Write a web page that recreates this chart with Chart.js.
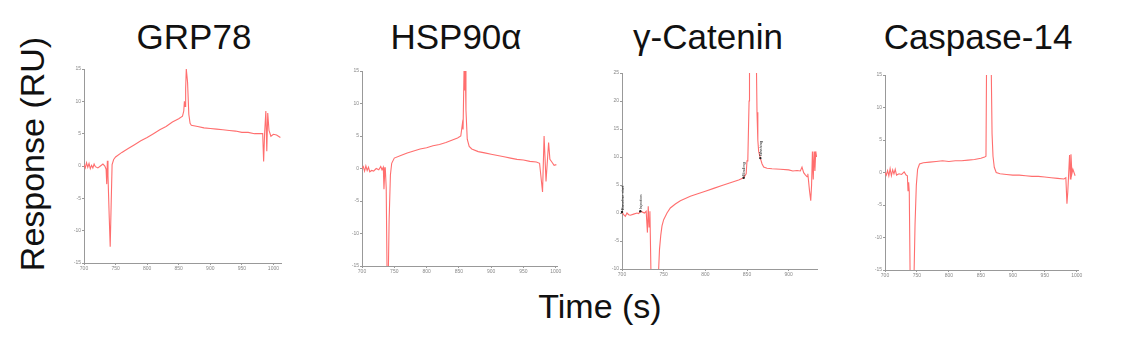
<!DOCTYPE html>
<html>
<head>
<meta charset="utf-8">
<script src="https://cdn.jsdelivr.net/npm/chart.js@4/dist/chart.umd.min.js"></script>
<style>
  body { margin: 0; background: #fff; width: 1133px; height: 338px; overflow: hidden; position: relative; font-family: "Liberation Sans", Arial, sans-serif; }
  .big { position: absolute; font-size: 35px; line-height: 35px; color: #111; white-space: nowrap; transform: translateX(-50%); }
  .ytitle { position: absolute; left: 32px; top: 154px; font-size: 34px; line-height: 34px; color: #111; white-space: nowrap; transform: translate(-50%, -50%) rotate(-90deg); }
  canvas { position: absolute; }
</style>
</head>
<body>
<div class="big" style="left:194px; top:19px">GRP78</div>
<div class="big" style="left:456px; top:19px">HSP90α</div>
<div class="big" style="left:708px; top:19px">γ-Catenin</div>
<div class="big" style="left:978px; top:19px">Caspase-14</div>
<div class="ytitle">Response (RU)</div>
<div class="big" style="left:600px; top:289px; font-size:34px">Time (s)</div>

<canvas id="c1"></canvas>
<canvas id="c2"></canvas>
<canvas id="c3"></canvas>
<canvas id="c4"></canvas>

<script>
// GRP78
const grpTime = [700, 702, 704, 706, 708, 710, 712, 714, 716, 718, 722, 726, 730, 733, 735, 736, 737, 738, 740, 741.5, 743, 744.5, 747, 750, 760, 770, 780, 790, 800, 810, 820, 830, 840, 850, 856, 858, 859, 860, 861, 862, 863, 864, 866, 868, 870, 880, 890, 900, 910, 920, 930, 940, 950, 960, 970, 980, 983, 984.5, 986, 988, 989.5, 991, 993, 996, 1000, 1005, 1011];
const grpResp = [0.2, -0.3, 0.5, -0.2, 0.4, -0.4, 0.1, -0.3, 0.3, -0.1, -0.3, 0.0, 0.3, 0.0, -0.5, -2.8, 0.8, -1.5, -8, -12.5, -6, 0.2, 1.0, 1.4, 2.1, 2.7, 3.3, 3.9, 4.4, 5.0, 5.6, 6.1, 6.8, 7.3, 7.7, 8.5, 10.0, 9.2, 12, 15, 15, 13, 8, 6.6, 6.3, 6.1, 5.9, 5.8, 5.7, 5.6, 5.5, 5.4, 5.2, 5.2, 5.0, 5.0, 5.0, 0.7, 5.0, 8.5, 2.3, 8.2, 5.5, 4.6, 4.9, 4.8, 4.4];

// HSP90a
const hspTime = [700, 702, 704, 706, 708, 710, 712, 715, 718, 722, 726, 729, 731, 733, 734, 735, 736, 737.5, 739, 740.5, 742, 744, 746, 750, 760, 770, 780, 790, 800, 810, 820, 830, 840, 848, 853, 855.5, 856.5, 858, 859, 860, 861, 863, 866, 870, 880, 890, 900, 910, 920, 930, 940, 950, 960, 970, 975, 979.6, 982, 985, 989, 991, 994, 997.5, 1001];
const hspResp = [0, 0.3, -0.4, 0.4, -0.3, 0.2, -0.5, -0.3, -0.4, 0, -0.2, 0.3, -0.2, 0.2, -3.2, -1, 0.2, -3, -18, -18, -8, -1, 0.8, 1.6, 2.0, 2.4, 2.7, 3.0, 3.2, 3.5, 3.7, 4.0, 4.4, 4.7, 5.0, 6.9, 6.0, 15, 12, 15, 9, 4.5, 3.4, 3.0, 2.6, 2.4, 2.2, 2.0, 1.8, 1.6, 1.4, 1.3, 1.1, 1.0, 0.8, -3.6, 5.0, -2.0, 4.0, 1.4, 1.0, 0.5, 0.6];

// gamma-Catenin
const catTime = [700, 702, 704, 706, 708, 710, 714, 718, 720, 722, 724, 727, 729, 730.5, 731.5, 732.5, 733.5, 735, 742, 744, 745, 746.5, 748, 750, 754, 758, 764, 770, 776, 782, 790, 800, 810, 820, 830, 840, 846, 849, 850, 851, 852.5, 853, 861, 862, 863, 864, 866, 868, 870, 874, 880, 890, 900, 905, 910, 914, 916, 918, 920, 922, 923, 925, 926.5, 927.5, 928.5, 929.5, 930.5, 931.5, 932.5, 933.5];
const catResp = [0.2, -0.3, -0.6, 0, -0.3, -0.4, -0.2, 0, -0.1, 0.3, 0.2, 0, 0.3, -3.5, 1.2, -2.5, 0.3, -13, -13, -10, -6.5, -4, -2.3, -1.2, 0, 0.9, 1.6, 2.2, 2.6, 3.0, 3.4, 3.9, 4.4, 4.9, 5.4, 5.9, 6.3, 7.0, 9.3, 9.6, 20, 30, 30, 18, 13, 11, 9.8, 8.8, 8.2, 8.0, 7.9, 7.8, 7.7, 7.5, 7.6, 7.5, 8.2, 7.2, 6.8, 6.5, 7, 4, 2.2, 5, 11, 6, 11, 7.5, 11, 10];
const catEvents = [700, 722, 846, 866];
const catEventText = ['Baseline start', 'Injection', 'Binding', 'Washing'];

// Caspase-14
const casTime = [700, 702, 704, 706, 708, 710, 712, 714, 716, 718, 722, 726, 730, 733, 735, 736, 737, 738, 739.5, 745, 747, 749, 751, 754, 760, 770, 780, 790, 800, 810, 820, 830, 840, 850, 856, 858, 859, 866, 867.5, 869, 871, 874, 880, 890, 900, 910, 920, 930, 940, 950, 960, 970, 980, 983, 984.7, 986, 988.8, 990, 991, 992.5, 994, 997.5];
const casResp = [0, -0.4, 0.3, -0.5, 0.6, -0.5, 0.4, -0.2, 0.5, -0.4, -0.2, -0.3, 0.1, -0.4, -0.5, -2.8, -1.5, -3, -18, -18, -8, -2, 0.5, 1.3, 1.5, 1.6, 1.7, 1.8, 1.7, 1.8, 1.8, 1.9, 2.0, 2.2, 2.4, 2.5, 18, 18, 6, 2.5, 0.8, 0, -0.2, -0.3, -0.4, -0.4, -0.5, -0.6, -0.6, -0.7, -0.8, -0.9, -1.0, -0.8, -4.8, -3, 2.7, -1, 2.8, -0.2, 0.5, -0.5];

const xTicks = [700, 750, 800, 850, 900, 950, 1000];
const yTicks = [-15, -10, -5, 0, 5, 10, 15];
const yTicksCat = [-10, -5, 0, 5, 10, 15, 20, 25];

const RED = 'rgb(255,110,110)';
const AXIS = '#999';

function pts(t, r) {
  return t.map((x, i) => ({ x: x, y: r[i] }));
}

// tiny rotated event labels for the catenin run
const eventMarks = {
  id: 'eventMarks',
  afterDatasetsDraw(chart, args, opts) {
    if (!opts.at) return;
    const ctx = chart.ctx;
    const xs = chart.scales.x, ys = chart.scales.y;
    const data = chart.data.datasets[0].data;
    ctx.save();
    ctx.fillStyle = '#222';
    ctx.font = '4px "Liberation Sans", Arial';
    opts.at.forEach((t, i) => {
      let best = data[0];
      data.forEach(p => { if (Math.abs(p.x - t) < Math.abs(best.x - t)) best = p; });
      const px = xs.getPixelForValue(t), py = ys.getPixelForValue(best.y);
      ctx.beginPath();
      ctx.arc(px, py, 1.2, 0, Math.PI * 2);
      ctx.fill();
      ctx.save();
      ctx.translate(px + 1.5, py - 2);
      ctx.rotate(-Math.PI / 2);
      ctx.fillText(opts.text[i], 0, 0);
      ctx.restore();
    });
    ctx.restore();
  }
};

function panel(id, box, time, resp, xmax, yt, extra) {
  const yW = 16, xH = 14, padT = 4, padR = 8;
  const cv = document.getElementById(id);
  const w = box.r - box.l + yW + padR;
  const h = box.b - box.t + padT + xH;
  cv.style.left = (box.l - yW) + 'px';
  cv.style.top = (box.t - padT) + 'px';
  cv.width = w; cv.height = h;
  cv.style.width = w + 'px'; cv.style.height = h + 'px';
  const xt = xTicks.filter(v => v <= xmax);
  return new Chart(cv, {
    type: 'line',
    data: {
      datasets: [{
        data: pts(time, resp),
        borderColor: RED,
        borderWidth: 1.1,
        pointRadius: 0,
        tension: 0,
        fill: false
      }]
    },
    options: {
      responsive: false,
      animation: false,
      layout: { padding: { top: padT, right: padR, left: 0, bottom: 0 } },
      plugins: {
        legend: { display: false },
        tooltip: { enabled: false },
        eventMarks: extra || {}
      },
      scales: {
        x: {
          type: 'linear',
          min: 700,
          max: xmax,
          afterFit: s => { s.height = xH; },
          afterBuildTicks: s => { s.ticks = xt.map(v => ({ value: v })); },
          border: { color: AXIS, width: 1 },
          grid: { drawOnChartArea: false, color: AXIS, tickLength: 2 },
          ticks: { maxRotation: 0, autoSkip: false, color: '#888', padding: 1, font: { size: 5 }, callback: v => String(v) }
        },
        y: {
          min: yt[0],
          max: yt[yt.length - 1],
          afterFit: s => { s.width = yW; },
          afterBuildTicks: s => { s.ticks = yt.map(v => ({ value: v })); },
          border: { color: AXIS, width: 1 },
          grid: { drawOnChartArea: false, color: AXIS, tickLength: 2 },
          ticks: { autoSkip: false, color: '#888', padding: 1, font: { size: 5 }, callback: v => String(v) }
        }
      }
    },
    plugins: [eventMarks]
  });
}

Chart.defaults.font.family = '"Liberation Sans", Arial, sans-serif';

panel('c1', { l: 84, t: 69, r: 281, b: 263 }, grpTime, grpResp, 1012, yTicks);
panel('c2', { l: 362, t: 71, r: 557, b: 266 }, hspTime, hspResp, 1002, yTicks);
panel('c3', { l: 622, t: 73, r: 817, b: 269 }, catTime, catResp, 934, yTicksCat, { at: catEvents, text: catEventText });
panel('c4', { l: 885, t: 75, r: 1078, b: 270 }, casTime, casResp, 1002, yTicks);
</script>
</body>
</html>
